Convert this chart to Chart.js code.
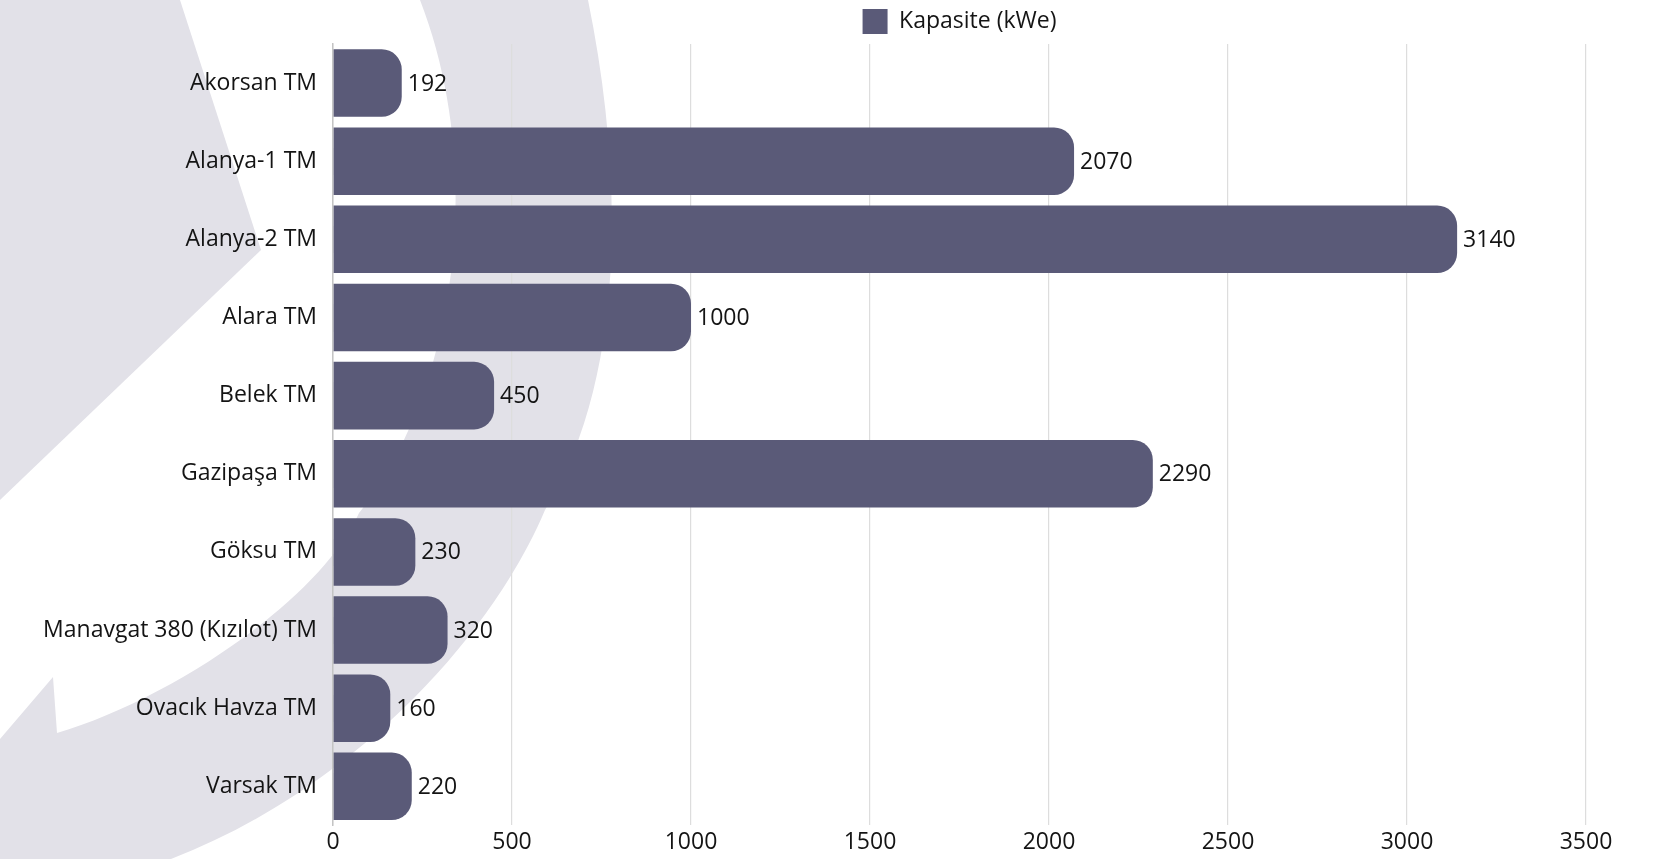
<!DOCTYPE html>
<html>
<head>
<meta charset="utf-8">
<script src="https://cdn.jsdelivr.net/npm/chart.js@4.4.1/dist/chart.umd.min.js"></script>
<style>
  html, body { margin: 0; padding: 0; background: #ffffff; }
  #wrap { position: relative; width: 1679px; height: 859px; overflow: hidden; }
  #bg { position: absolute; left: 0; top: 0; }
  #c { position: absolute; left: 0; top: 0; }
</style>
</head>
<body>
<div id="wrap">
  <svg id="bg" width="1679" height="859" viewBox="0 0 1679 859">
    <path d="M0,0 L180,0 L261,250 L0,500 Z" fill="#e2e1e8"/>
    <path d="M420,0 L588,0 C625,180 625,380 545,510 C490,640 350,790 171,859 L0,859 L0,739 L53,677 L57,733 C170,700 320,600 359,513 C450,400 490,180 420,0 Z" fill="#e2e1e8"/>
  </svg>
  <canvas id="c" width="1679" height="859"></canvas>
</div>
<script>
const categories = [
  "Akorsan TM", "Alanya-1 TM", "Alanya-2 TM", "Alara TM", "Belek TM",
  "Gazipaşa TM", "Göksu TM", "Manavgat 380 (Kızılot) TM", "Ovacık Havza TM", "Varsak TM"
];
const capacityValues = [192, 2070, 3140, 1000, 450, 2290, 230, 320, 160, 220];
const seriesName = "Kapasite (kWe)";
const xTicks = [0, 500, 1000, 1500, 2000, 2500, 3000, 3500];

const FONT = '"Open Sans", "DejaVu Sans", sans-serif';
const FSIZE = 23;
const TEXT = '#141414';
const BAR = '#5a5a78';

const valueLabels = {
  id: 'valueLabels',
  afterDatasetsDraw(chart) {
    const ctx = chart.ctx;
    const meta = chart.getDatasetMeta(0);
    ctx.save();
    ctx.font = FSIZE + 'px ' + FONT;
    ctx.fillStyle = TEXT;
    ctx.textAlign = 'left';
    ctx.textBaseline = 'middle';
    meta.data.forEach((bar, i) => {
      ctx.fillText(String(capacityValues[i]), bar.x + 6, bar.y + 1);
    });
    ctx.restore();
  }
};

const legendToArea = {
  id: 'legendToArea',
  afterLayout(chart) {
    const l = chart.legend;
    if (l) { l.left = chart.chartArea.left; l.right = chart.chartArea.right; }
  }
};

new Chart(document.getElementById('c'), {
  type: 'bar',
  data: {
    labels: categories,
    datasets: [{
      label: seriesName,
      data: capacityValues,
      backgroundColor: BAR,
      borderWidth: 0,
      borderRadius: 20,
      borderSkipped: 'start',
      barPercentage: 0.96,
      categoryPercentage: 0.9
    }]
  },
  options: {
    indexAxis: 'y',
    responsive: false,
    animation: false,
    layout: { padding: { top: 0, right: 93, bottom: 0, left: 0 } },
    plugins: {
      legend: {
        display: true,
        position: 'top',
        labels: {
          font: { family: FONT, size: FSIZE },
          color: TEXT,
          boxWidth: 25,
          boxHeight: 25,
          padding: 9
        }
      },
      tooltip: { enabled: false }
    },
    scales: {
      x: {
        min: 0, max: 3500,
        afterBuildTicks(scale) { scale.ticks = xTicks.map(v => ({ value: v })); },
        ticks: {
          font: { family: FONT, size: FSIZE }, color: TEXT, padding: 3,
          callback: (v) => String(v)
        },
        grid: { color: '#dddddd', lineWidth: 1.2, drawTicks: false },
        border: { display: false }
      },
      y: {
        afterFit(scale) { scale.width = 333; },
        ticks: { font: { family: FONT, size: FSIZE }, color: TEXT, padding: 16 },
        grid: { display: false, drawTicks: false },
        border: { display: true, color: '#c4c4c4', width: 1.5 }
      }
    }
  },
  plugins: [valueLabels, legendToArea]
});
</script>
</body>
</html>
